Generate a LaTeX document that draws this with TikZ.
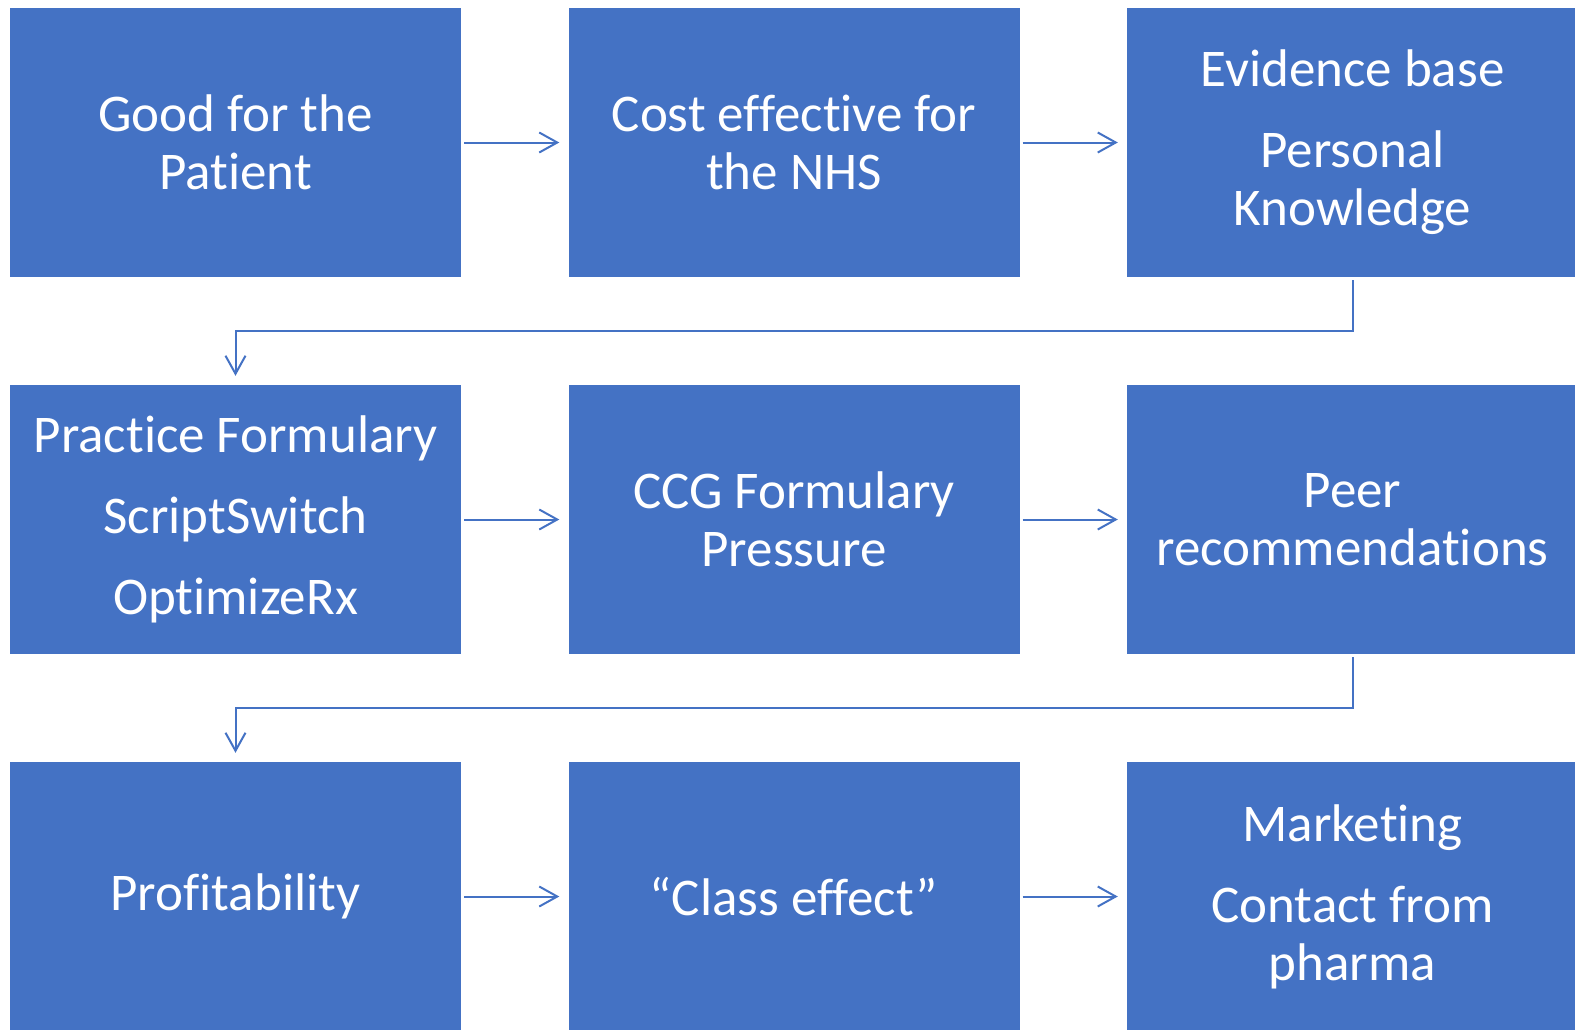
\documentclass[tikz,border=0pt]{standalone}
\usepackage{fontspec}
\setmainfont{Carlito}[Ligatures={NoCommon}]
\usetikzlibrary{arrows.meta, positioning}
\definecolor{boxblue}{HTML}{4472C4}
\tikzstyle{stage} = [rectangle, fill=boxblue, text=white, minimum width=451pt, minimum height=269pt,
                     inner sep=0, align=center, font=\fontsize{53}{58}\selectfont]
\tikzstyle{link} = [draw=boxblue, line width=2pt, shorten <=3pt, shorten >=9pt,
                    -{Straight Barb[length=18pt, width=20pt, line width=2pt]}]

\begin{document}
\begin{tikzpicture}[x=1pt, y=-1pt]
				\useasboundingbox (0, 0) rectangle (1575, 1029);

				% first row
				\node (Good) [stage] at (235.5, 142.5) {Good for the\\Patient};
				\node (Cost) [stage] at (794, 142.5) {Cost effective for\\the NHS};
				\node (Evidence) [stage] at (1352.5, 142.5) {Evidence base\\[23pt]Personal\\Knowledge};
				\draw[link] (Good) -- (Cost);
				\draw[link] (Cost) -- (Evidence);

				% second row
				\node (Practice) [stage] at (235.5, 519.5) {Practice Formulary\\[23pt]ScriptSwitch\\[23pt]OptimizeRx};
				\node (CCG) [stage] at (794, 519.5) {CCG Formulary\\Pressure};
				\node (Peer) [stage] at (1352.5, 519.5) {Peer\\recommendations};
				\draw[link] (Practice) -- (CCG);
				\draw[link] (CCG) -- (Peer);

				\coordinate (BendOne) at (1352.5, 331);
				\draw[link] (Evidence) -- (BendOne) -| (Practice);

				% third row
				\node (Profit) [stage] at (235.5, 896.5) {Profitability};
				\node (Class) [stage] at (794, 896.5) {“Class effect”};
				\node (Marketing) [stage] at (1352.5, 896.5) {Marketing\\[23pt]Contact from\\pharma};
				\draw[link] (Profit) -- (Class);
				\draw[link] (Class) -- (Marketing);

				\coordinate (BendTwo) at (1352.5, 708);
				\draw[link] (Peer) -- (BendTwo) -| (Profit);
\end{tikzpicture}
\end{document}
